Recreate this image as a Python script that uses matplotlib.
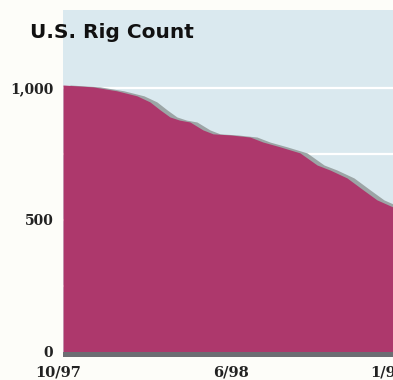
import matplotlib
matplotlib.use("Agg")
import matplotlib.pyplot as plt
import matplotlib.transforms as mtransforms
from matplotlib.ticker import FuncFormatter

# Weekly-ish rig count readings, x in months from 10/97
months = [0.0, 1.36, 2.45, 3.36, 3.95, 4.41, 4.86, 5.3, 5.77, 6.36, 6.82,
          7.6, 8.5, 9.09, 9.86, 10.77, 11.55, 12.14, 12.91, 13.64, 14.27, 15.0]
rigs = [1011, 1004, 989, 970, 947, 917, 890, 878, 871, 841, 826,
        822, 814, 795, 777, 754, 708, 689, 659, 614, 576, 549]

tick_pos = [0.0, 7.65, 14.8]
tick_labels = ["10/97", "6/98", "1/99"]
y_ticks = [0, 500, 1000]
grid_levels = [250, 500, 750, 1000]

FILL = "#ad386c"
SHADOW = "#9ca5a6"
BASE = "#6c6d72"
BG = "#dae9ef"
PAPER = "#fdfdf9"

W, H = 393, 380
fig = plt.figure(figsize=(W / 100, H / 100), dpi=100, facecolor=PAPER)
ax = fig.add_axes([63 / W, (H - 357) / H, 1 - 63 / W, (357 - 10) / H])
ax.set_facecolor(BG)

for g in grid_levels:
    ax.axhline(g, color="white", lw=1.6, zorder=1)

# drop shadow: same area, nudged right a few pixels
shadow_tr = mtransforms.offset_copy(ax.transData, fig=fig, x=7, y=0,
                                    units="dots")
ax.fill_between(months, 0, rigs, color=SHADOW, lw=0, zorder=2,
                transform=shadow_tr)
ax.fill_between(months, 0, rigs, color=FILL, lw=0, zorder=3)
ax.axhspan(-19, 0, color=BASE, lw=0, zorder=4)

ax.set_xlim(0, 15)
ax.set_ylim(-19, 1295)

ax.set_yticks(y_ticks)
ax.yaxis.set_major_formatter(FuncFormatter(lambda v, p: f"{int(v):,}"))
ax.set_xticks(tick_pos)
ax.set_xticklabels(tick_labels)
ax.tick_params(length=0, labelsize=10, pad=7)
ax.tick_params(axis="x", pad=6, labelsize=10.5)
for lab in ax.get_xticklabels() + ax.get_yticklabels():
    lab.set_fontfamily("DejaVu Serif")
    lab.set_fontweight("bold")
    lab.set_color("#222222")
# first date label sits a little left of the axis edge
first = ax.get_xticklabels()[0]
first.set_transform(first.get_transform() +
                    mtransforms.ScaledTranslation(-5 / 100, 0,
                                                  fig.dpi_scale_trans))

for s in ax.spines.values():
    s.set_visible(False)

fig.text(30 / W, 1 - 33 / H, "U.S. Rig Count", fontsize=14.5,
         fontweight="heavy", family="DejaVu Sans", va="center", ha="left",
         color="#111111")

fig.savefig("out.png", dpi=100, facecolor=PAPER)
